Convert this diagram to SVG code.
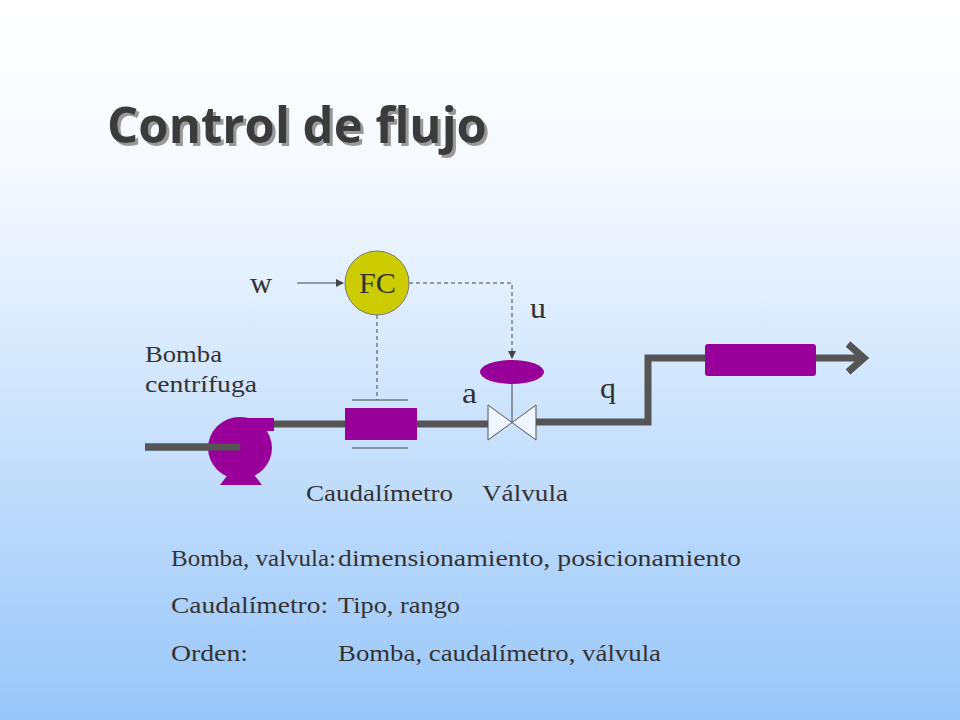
<svg xmlns="http://www.w3.org/2000/svg" width="960" height="720" viewBox="0 0 960 720">
<defs>
<linearGradient id="bg" x1="0" y1="0" x2="0" y2="1"><stop offset="0" stop-color="#ffffff"/><stop offset="0.25" stop-color="#f4f9ff"/><stop offset="1" stop-color="#98c6f9"/></linearGradient>
<marker id="ah" markerWidth="8" markerHeight="8" refX="7" refY="4" orient="auto" markerUnits="userSpaceOnUse"><path d="M0,0 L8,4 L0,8 z" fill="#444"/></marker>
<filter id="sh" x="-5%" y="-20%" width="110%" height="140%"><feOffset in="SourceAlpha" dx="3" dy="3" result="o"/><feFlood flood-color="#999"/><feComposite in2="o" operator="in"/><feMerge><feMergeNode/><feMergeNode in="SourceGraphic"/></feMerge></filter>
</defs>
<style>
.s{font-family:"Liberation Serif",serif;fill:#333}
.pipe{stroke:#555;stroke-width:7;fill:none}
.p{fill:#990099}
.thin{stroke:#444;stroke-width:1;fill:none}
.dash{stroke:#444;stroke-width:1;fill:none;stroke-dasharray:4,3}
</style>
<rect width="960" height="720" fill="url(#bg)"/>
<text x="107" y="143" font-family="Open Sans,sans-serif" font-weight="bold" font-size="50" fill="#3a3a3a" textLength="380" lengthAdjust="spacingAndGlyphs" filter="url(#sh)">Control de flujo</text>
<g id="connectors">
<path class="pipe" d="M145,447 H240"/>
<path class="pipe" d="M272,424 H488"/>
<path class="pipe" d="M536,422 H648 V358 H862"/>
<path class="pipe" d="M848,344 L864,358 L848,372"/>
<path class="thin" d="M297,283 H343" marker-end="url(#ah)"/>
<path class="dash" d="M377,315 V400"/>
<path class="dash" d="M409,283 H512 V358" marker-end="url(#ah)"/>
<path class="thin" d="M512,384 V422"/>
</g>
<g id="pump">
<ellipse cx="240" cy="448" rx="32" ry="31" class="p"/>
<rect x="240" y="418" width="34" height="13" class="p"/>
<path d="M230,472 H252 L262,485 H220 z" class="p"/>
<path class="pipe" d="M145,447 H240"/>
</g>
<g id="meter">
<rect x="345" y="408" width="72" height="32" class="p"/>
<path class="thin" d="M352,400 H408 M352,448 H408"/>
</g>
<g id="valve">
<path d="M488,405 L536,440 V405 L488,440 z" fill="#eef6ff" stroke="#555" stroke-width="1"/>
<ellipse cx="512" cy="372" rx="32" ry="12" class="p"/>
</g>
<g id="fc">
<circle cx="377" cy="283" r="32" fill="#cccc00" stroke="#777" stroke-width="1"/>
<text x="359" y="293" class="s" font-size="30" textLength="37" lengthAdjust="spacingAndGlyphs">FC</text>
</g>
<g id="load"><rect x="705" y="344" width="111" height="32" rx="3" class="p"/></g>
<g id="labels">
<text x="250" y="293" class="s" font-size="30" textLength="22" lengthAdjust="spacingAndGlyphs">w</text>
<text x="530" y="318" class="s" font-size="30" textLength="16" lengthAdjust="spacingAndGlyphs">u</text>
<text x="462" y="403" class="s" font-size="30" textLength="15" lengthAdjust="spacingAndGlyphs">a</text>
<text x="600" y="398" class="s" font-size="30" textLength="16" lengthAdjust="spacingAndGlyphs">q</text>
<text x="145" y="362" class="s" font-size="23" textLength="77" lengthAdjust="spacingAndGlyphs">Bomba</text>
<text x="145" y="392" class="s" font-size="23" textLength="112" lengthAdjust="spacingAndGlyphs">centrífuga</text>
<text x="306" y="501" class="s" font-size="23" textLength="147" lengthAdjust="spacingAndGlyphs">Caudalímetro</text>
<text x="482" y="501" class="s" font-size="23" textLength="86" lengthAdjust="spacingAndGlyphs">Válvula</text>
<text x="171" y="566" class="s" font-size="24" textLength="165" lengthAdjust="spacingAndGlyphs">Bomba, valvula:</text>
<text x="338" y="566" class="s" font-size="24" textLength="403" lengthAdjust="spacingAndGlyphs">dimensionamiento, posicionamiento</text>
<text x="171" y="613" class="s" font-size="24" textLength="157" lengthAdjust="spacingAndGlyphs">Caudalímetro:</text>
<text x="338" y="613" class="s" font-size="24" textLength="122" lengthAdjust="spacingAndGlyphs">Tipo, rango</text>
<text x="171" y="661" class="s" font-size="24" textLength="77" lengthAdjust="spacingAndGlyphs">Orden:</text>
<text x="338" y="661" class="s" font-size="24" textLength="323" lengthAdjust="spacingAndGlyphs">Bomba, caudalímetro, válvula</text>
</g>
</svg>
